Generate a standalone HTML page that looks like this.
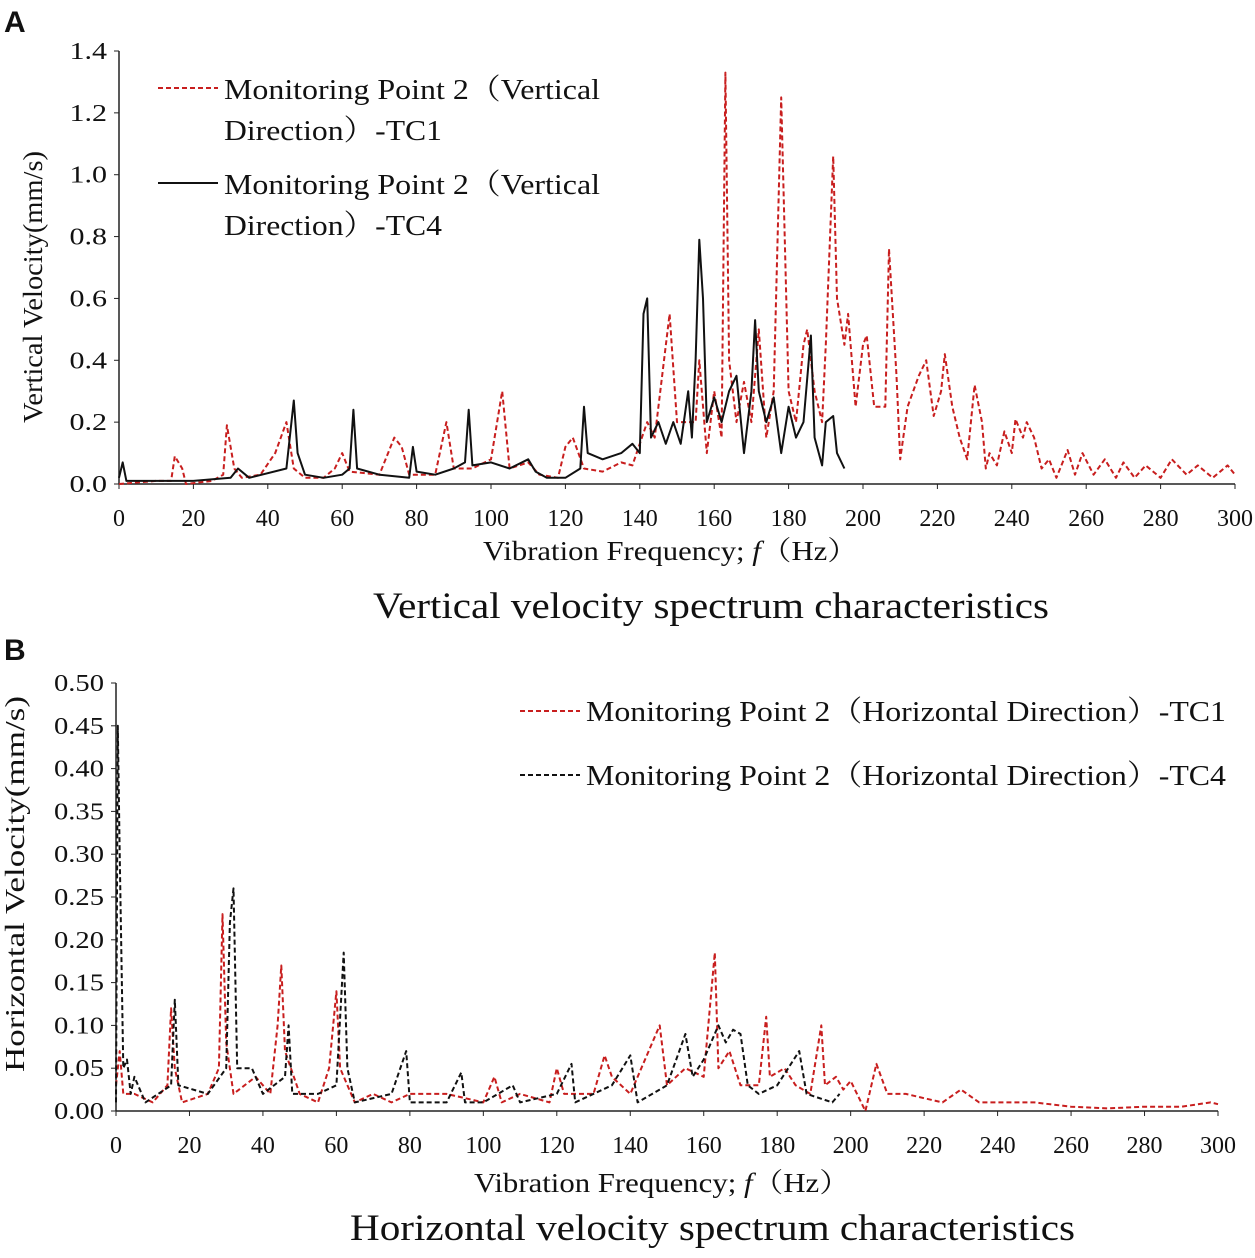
<!DOCTYPE html>
<html><head><meta charset="utf-8"><style>
body{margin:0;background:#fff;}
svg text{font-family:"Liberation Serif","Noto Serif CJK SC",serif;fill:#111;}
</style></head><body>
<svg id="s" width="1255" height="1253" xmlns="http://www.w3.org/2000/svg">
<text x="4" y="32" style="font-family:'Liberation Sans',sans-serif;font-weight:bold;font-size:30px">A</text>
<text x="4" y="660" style="font-family:'Liberation Sans',sans-serif;font-weight:bold;font-size:30px">B</text>
</svg>
<script>
const aTC1F=[0,10,14,15,17,18,25,28,29,31,33,38,42,45,47,50,55,58,60,62,70,74,76,78,85,88,90,95,100,103,105,110,113,118,120,122,125,130,135,138,142,144,148,150,155,156,158,160,162,163,164,166,168,170,172,174,176,178,180,182,184,185,187,189,190,192,193,195,196,198,200,201,203,206,207,209,210,212,215,217,219,221,222,224,226,228,230,232,233,234,236,238,240,241,243,244,246,248,250,252,255,257,259,262,265,268,270,273,276,280,283,287,290,294,298,300];
const aTC1V=[0,0.01,0.01,0.09,0.05,0,0.01,0.03,0.19,0.05,0.02,0.03,0.1,0.2,0.05,0.02,0.02,0.05,0.1,0.04,0.03,0.15,0.12,0.03,0.03,0.2,0.05,0.05,0.08,0.3,0.05,0.07,0.03,0.02,0.12,0.15,0.05,0.04,0.07,0.06,0.2,0.15,0.55,0.2,0.2,0.4,0.1,0.3,0.15,1.33,0.4,0.2,0.33,0.2,0.5,0.15,0.3,1.25,0.3,0.2,0.45,0.5,0.3,0.2,0.45,1.06,0.6,0.45,0.55,0.25,0.45,0.48,0.25,0.25,0.76,0.35,0.08,0.25,0.35,0.4,0.22,0.3,0.42,0.25,0.15,0.08,0.32,0.2,0.05,0.1,0.06,0.17,0.1,0.21,0.15,0.2,0.15,0.05,0.08,0.02,0.11,0.03,0.1,0.03,0.08,0.02,0.07,0.02,0.06,0.02,0.08,0.03,0.06,0.02,0.06,0.03];
const aTC4F=[0,1,2,10,20,30,32,35,45,47,48,50,55,60,62,63,64,70,78,79,80,85,90,93,94,95,100,105,110,112,115,120,124,125,126,130,135,138,140,141,142,143,145,147,149,151,153,154,155,156,157,158,160,162,164,166,168,170,171,172,174,176,178,180,182,184,186,187,189,190,192,193,195];
const aTC4V=[0.02,0.07,0.01,0.01,0.01,0.02,0.05,0.02,0.05,0.27,0.1,0.03,0.02,0.03,0.05,0.24,0.05,0.03,0.02,0.12,0.04,0.03,0.05,0.07,0.24,0.06,0.07,0.05,0.08,0.04,0.02,0.02,0.05,0.25,0.1,0.08,0.1,0.13,0.1,0.55,0.6,0.15,0.2,0.13,0.2,0.13,0.3,0.15,0.4,0.79,0.6,0.2,0.28,0.2,0.3,0.35,0.1,0.3,0.53,0.3,0.2,0.28,0.1,0.25,0.15,0.2,0.48,0.15,0.06,0.2,0.22,0.1,0.05];
const bTC1F=[0,1,2,5,10,14,15,16,18,25,28,29,30,32,38,42,44,45,46,50,55,58,60,61,65,70,75,80,90,100,103,105,110,118,120,122,130,133,135,140,148,150,155,160,163,164,167,170,175,177,178,182,185,189,192,193,196,198,200,204,207,210,215,220,225,230,235,240,250,260,270,280,290,298,300];
const bTC1V=[0.03,0.07,0.02,0.02,0.01,0.03,0.12,0.05,0.01,0.02,0.05,0.23,0.08,0.02,0.04,0.02,0.1,0.17,0.07,0.02,0.01,0.05,0.14,0.05,0.01,0.02,0.01,0.02,0.02,0.01,0.04,0.01,0.02,0.01,0.05,0.02,0.02,0.065,0.04,0.02,0.1,0.03,0.05,0.04,0.185,0.05,0.07,0.03,0.03,0.11,0.04,0.05,0.03,0.02,0.1,0.03,0.04,0.025,0.035,0,0.055,0.02,0.02,0.015,0.01,0.025,0.01,0.01,0.01,0.005,0.003,0.005,0.005,0.01,0.008];
const bTC4F=[0,0.5,1,2,3,4,5,8,15,16,17,25,30,31,32,33,37,40,46,47,48,55,60,62,63,65,75,79,80,90,94,95,100,108,110,120,124,125,135,140,142,150,155,157,160,164,166,168,170,172,175,180,186,188,195,197];
const bTC4V=[0.01,0.45,0.3,0.05,0.06,0.02,0.04,0.01,0.03,0.13,0.03,0.02,0.05,0.22,0.26,0.05,0.05,0.02,0.04,0.1,0.02,0.02,0.03,0.185,0.05,0.01,0.02,0.07,0.01,0.01,0.045,0.01,0.01,0.03,0.01,0.02,0.055,0.01,0.03,0.065,0.01,0.03,0.09,0.04,0.06,0.1,0.08,0.095,0.09,0.03,0.02,0.03,0.07,0.02,0.01,0.02];
const aYTicks=["0.0","0.2","0.4","0.6","0.8","1.0","1.2","1.4"];
const bYTicks=["0.00","0.05","0.10","0.15","0.20","0.25","0.30","0.35","0.40","0.45","0.50"];
const xTicks=[0,20,40,60,80,100,120,140,160,180,200,220,240,260,280,300];

const NS="http://www.w3.org/2000/svg",svg=document.getElementById('s');
function el(t,a,txt){const e=document.createElementNS(NS,t);for(const k in a)e.setAttribute(k,a[k]);if(txt!==undefined)e.textContent=txt;svg.appendChild(e);return e;}
function chart(c){
 const sx=f=>c.x0+(c.x1-c.x0)*f/300, sy=v=>c.y0-(c.y0-c.y1)*v/c.ymax;
 let e=el('line',{x1:c.x0,y1:c.y0,x2:c.x1,y2:c.y0,stroke:'#222','stroke-width':1.5});
 
 e=el('line',{x1:c.x0,y1:c.y0,x2:c.x0,y2:c.y1,stroke:'#222','stroke-width':1.5});
 
 c.yt.forEach(t=>{const y=sy(parseFloat(t));
  el('line',{x1:c.x0-5,y1:y,x2:c.x0,y2:y,stroke:'#222'});
  e=el('text',{x:c.x0-12,y:y+8,'text-anchor':'end','font-size':24,textLength:t.length*12.5,lengthAdjust:'spacingAndGlyphs'},t);
  });
 xTicks.forEach(t=>{const x=sx(t);
  el('line',{x1:x,y1:c.y0,x2:x,y2:c.y0+5,stroke:'#222'});
  e=el('text',{x:x,y:c.y0+42,'text-anchor':'middle','font-size':24},t);
  });
 c.series.forEach(s=>{
  const d=s.f.map((f,i)=>(i?'L':'M')+sx(f).toFixed(1)+','+sy(s.v[i]).toFixed(1)).join('');
  const p=el('path',{d:d,fill:'none',stroke:s.col,'stroke-width':2,'stroke-dasharray':s.dash||'none','stroke-linejoin':'round'});
  
 });
}
chart({p:'a',x0:119,x1:1235,y0:484,y1:51,ymax:1.4,yt:aYTicks,series:[
 {f:aTC1F,v:aTC1V,col:'#c81e1e',dash:'5,3',name:'series-a-tc1'},
 {f:aTC4F,v:aTC4V,col:'#111',name:'series-a-tc4'}]});
chart({p:'b',x0:116,x1:1218,y0:1111,y1:683,ymax:0.5,yt:bYTicks,series:[
 {f:bTC1F,v:bTC1V,col:'#c81e1e',dash:'5,3',name:'series-b-tc1'},
 {f:bTC4F,v:bTC4V,col:'#111',dash:'5,3',name:'series-b-tc4'}]});
function txt(x,y,s,size,len,name,extra){const e=el('text',Object.assign({x:x,y:y,'font-size':size,textLength:len,lengthAdjust:'spacingAndGlyphs'},extra||{}),s);
 return e;}
function ln(x1,x2,y,col,dash,name){const e=el('line',{x1:x1,x2:x2,y1:y,y2:y,stroke:col,'stroke-width':2,'stroke-dasharray':dash});
 }
ln(158,218,88,'#c81e1e','5,3','legend-a-tc1-swatch');
txt(224,99,'Monitoring Point 2（Vertical',29,376,'legend-a-tc1-label');
txt(224,140,'Direction）-TC1',29,218,'legend-a-tc1-label-2');
ln(158,218,183,'#111','none','legend-a-tc4-swatch');
txt(224,194,'Monitoring Point 2（Vertical',29,376,'legend-a-tc4-label');
txt(224,235,'Direction）-TC4',29,218,'legend-a-tc4-label-2');
txt(483,560,'',27,375,'a-x-axis-title').innerHTML='Vibration Frequency; <tspan font-style="italic">f</tspan>（Hz）';
txt(42,287,'Vertical  Velocity(mm/s)',27,272,'a-y-axis-title',{'text-anchor':'middle',transform:'rotate(-90 42 287)'});
txt(373,618,'Vertical velocity spectrum characteristics',37,676,'a-chart-title');
ln(520,580,711,'#c81e1e','5,3','legend-b-tc1-swatch');
txt(586,721,'Monitoring Point 2（Horizontal Direction）-TC1',29,640,'legend-b-tc1-label');
ln(520,580,775,'#111','5,3','legend-b-tc4-swatch');
txt(586,785,'Monitoring Point 2（Horizontal Direction）-TC4',29,640,'legend-b-tc4-label');
txt(474,1192,'',27,376,'b-x-axis-title').innerHTML='Vibration Frequency; <tspan font-style="italic">f</tspan>（Hz）';
txt(24,884,'Horizontal  Velocity(mm/s)',27,376,'b-y-axis-title',{'text-anchor':'middle',transform:'rotate(-90 24 884)'});
txt(350,1240,'Horizontal velocity spectrum characteristics',37,725,'b-chart-title');
</script>
</body></html>
